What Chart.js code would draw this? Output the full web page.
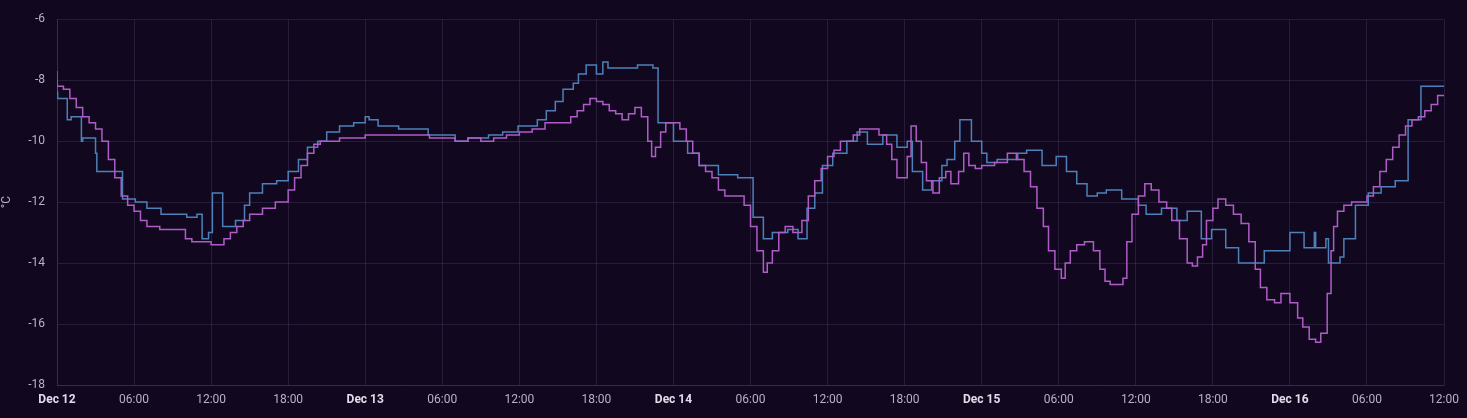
<!DOCTYPE html>
<html>
<head>
<meta charset="utf-8">
<script src="https://cdn.jsdelivr.net/npm/chart.js@4/dist/chart.umd.min.js"></script>
<style>
  html, body { margin: 0; padding: 0; background: #110820; }
  #wrap { width: 1467px; height: 418px; }
</style>
</head>
<body>
<div id="wrap"><canvas id="c"></canvas></div>
<script>
// x = hours since Dec 12 00:00
const tickLabels = ['Dec 12', '06:00', '12:00', '18:00', 'Dec 13', '06:00', '12:00', '18:00', 'Dec 14', '06:00', '12:00', '18:00', 'Dec 15', '06:00', '12:00', '18:00', 'Dec 16', '06:00', '12:00'];

const blueHours = [0, 0.05, 0.8, 1.1, 1.9, 2.0, 3.0, 3.1, 5.1, 6.1, 7.0, 8.1, 10.1, 10.9, 11.3, 11.8, 12.1, 12.9, 13.9, 14.6, 15.0, 16.0, 17.1, 18.0, 18.8, 19.5, 20.3, 21.0, 22.0, 23.1, 24.0, 24.3, 25.0, 26.6, 28.9, 31.0, 32.0, 33.6, 34.7, 35.9, 37.4, 38.1, 38.8, 39.4, 40.2, 40.6, 41.2, 42.0, 42.5, 42.9, 45.2, 46.4, 46.8, 48.0, 49.1, 50.0, 51.5, 53.0, 54.2, 55.0, 55.7, 56.9, 57.7, 58.4, 59.0, 59.6, 60.4, 61.5, 62.3, 63.1, 64.3, 65.4, 66.2, 66.6, 67.4, 68.1, 68.9, 69.3, 69.9, 70.3, 71.2, 72.0, 72.4, 73.2, 74.8, 75.5, 76.7, 77.8, 78.6, 79.4, 80.2, 81.0, 81.7, 82.9, 84.2, 84.8, 86.0, 87.2, 88.0, 89.1, 89.9, 91.0, 92.0, 94.0, 96.0, 97.1, 97.9, 98.0, 98.8, 99.0, 99.9, 100.2, 101.1, 102.1, 103.1, 104.2, 105.2, 106.2, 107.1, 108];
const blueValues = [-7.7, -8.4, -8.6, -9.3, -9.2, -10.0, -9.9, -10.4, -11.0, -11.9, -12.0, -12.2, -12.4, -12.5, -12.4, -13.2, -13.0, -11.7, -12.8, -12.6, -12.1, -11.7, -11.4, -11.3, -11.0, -10.6, -10.2, -10.0, -9.7, -9.5, -9.4, -9.2, -9.3, -9.5, -9.6, -9.8, -10.0, -9.9, -9.8, -9.7, -9.5, -9.3, -9.0, -8.7, -8.3, -8.1, -7.8, -7.5, -7.8, -7.4, -7.6, -7.5, -7.6, -9.4, -10.0, -10.4, -10.8, -11.1, -11.2, -12.5, -13.2, -13.0, -12.9, -13.2, -12.2, -11.7, -10.8, -10.4, -10.0, -9.7, -10.1, -9.8, -10.2, -10.0, -11.0, -11.6, -11.3, -10.8, -10.6, -10.0, -9.3, -10.0, -10.4, -10.7, -10.6, -10.4, -10.3, -10.8, -10.5, -11.0, -11.4, -11.8, -11.7, -11.6, -11.9, -12.1, -12.4, -12.2, -12.6, -12.3, -13.2, -12.9, -13.5, -14.0, -13.6, -13.0, -13.5, -13.0, -13.5, -13.2, -14.0, -13.8, -13.2, -12.1, -11.7, -11.5, -11.3, -9.3, -8.2, -8.2];

const purpleHours = [0, 0.5, 1, 1.5, 2, 2.5, 3, 3.5, 4, 4.5, 5, 5.5, 6, 6.5, 7, 7.5, 8, 8.5, 9, 10, 10.5, 11, 12, 12.5, 13, 13.5, 14, 14.5, 15, 15.5, 16, 17, 18, 18.5, 19, 19.5, 20, 20.5, 21, 22, 23, 24, 25, 27, 29, 31, 32, 33, 34, 35, 36, 37, 38, 39, 40, 40.5, 41, 41.5, 42, 42.5, 43, 43.5, 44, 44.5, 45, 45.5, 46, 46.3, 46.6, 47, 47.4, 47.8, 48.5, 49, 49.5, 50, 50.5, 51, 51.5, 52, 52.5, 53.5, 54, 54.5, 55, 55.3, 55.7, 56.2, 56.7, 57.3, 58, 58.5, 59, 59.5, 60, 60.5, 61, 62, 62.5, 63, 64, 64.6, 65, 65.4, 65.8, 66.2, 66.5, 66.9, 67.3, 67.7, 68.2, 68.7, 69.2, 69.6, 70.2, 70.6, 71, 71.5, 72, 73, 74, 74.7, 75.3, 75.8, 76.3, 76.8, 77.2, 77.7, 78.2, 78.5, 78.9, 79.4, 80, 80.7, 81.2, 81.6, 82, 83, 83.3, 83.7, 84.2, 84.7, 85.2, 85.8, 86.4, 86.8, 87.4, 88, 88.4, 88.8, 89.2, 89.5, 90, 90.4, 91, 91.6, 92.2, 92.8, 93.3, 93.7, 94.2, 94.8, 95.3, 96, 96.6, 97, 97.5, 98, 98.4, 98.9, 99.2, 99.4, 99.7, 100.2, 100.8, 101.5, 102, 102.5, 103, 103.5, 104, 104.5, 105, 105.5, 106, 106.5, 107, 107.5, 108];
const purpleValues = [-8.0, -8.2, -8.3, -8.6, -8.9, -9.2, -9.4, -9.6, -10.0, -10.6, -11.2, -11.8, -12.1, -12.3, -12.6, -12.8, -12.8, -12.9, -12.9, -12.9, -13.2, -13.3, -13.3, -13.4, -13.4, -13.2, -13.0, -12.8, -12.6, -12.4, -12.4, -12.2, -12.0, -11.6, -11.2, -10.8, -10.4, -10.1, -10.0, -10.0, -9.9, -9.9, -9.8, -9.8, -9.8, -9.9, -10.0, -9.9, -10.0, -9.9, -9.8, -9.7, -9.6, -9.4, -9.4, -9.2, -9.0, -8.8, -8.6, -8.7, -8.8, -9.0, -9.1, -9.3, -9.1, -8.9, -9.2, -10.0, -10.5, -10.2, -9.7, -9.4, -9.4, -9.6, -10.0, -10.4, -10.8, -11.0, -11.2, -11.6, -11.8, -11.8, -12.1, -12.8, -13.6, -14.3, -14.0, -13.6, -13.0, -12.8, -13.0, -12.6, -11.8, -11.3, -10.9, -10.5, -10.3, -10.0, -9.8, -9.6, -9.6, -9.8, -10.1, -10.6, -11.2, -11.2, -10.5, -9.5, -10.0, -10.7, -11.3, -11.7, -11.2, -11.0, -11.4, -11.0, -10.4, -10.8, -10.9, -10.8, -10.7, -10.4, -10.6, -11.0, -11.5, -12.2, -12.8, -13.6, -14.2, -14.5, -14.0, -13.6, -13.4, -13.3, -13.6, -14.2, -14.6, -14.7, -14.5, -13.3, -12.4, -11.8, -11.4, -11.6, -12.0, -12.2, -12.6, -13.2, -14.0, -14.1, -13.8, -13.4, -12.6, -12.2, -11.9, -12.1, -12.4, -12.7, -13.3, -14.2, -14.8, -15.2, -15.3, -15.0, -15.3, -15.8, -16.1, -16.5, -16.6, -16.3, -15.0, -13.6, -12.8, -12.3, -12.1, -12.0, -12.0, -11.8, -11.5, -11.0, -10.6, -10.2, -9.8, -9.5, -9.3, -9.2, -9.0, -8.8, -8.5];

const toPoints = (xs, ys) => xs.map((x, i) => ({ x: x, y: ys[i] }));

const gridColor = 'rgba(120, 100, 150, 0.22)';
const isDay = ctx => (ctx.index || 0) % 4 === 0;

new Chart(document.getElementById('c'), {
    type: 'line',
    data: {
        datasets: [
            {
                data: toPoints(purpleHours, purpleValues),
                borderColor: '#b05cc6',
                borderWidth: 1.5,
                stepped: 'after',
                pointRadius: 0
            },
            {
                data: toPoints(blueHours, blueValues),
                borderColor: '#4d80b8',
                borderWidth: 1.5,
                stepped: 'after',
                pointRadius: 0
            }
        ]
    },
    options: {
        responsive: true,
        maintainAspectRatio: false,
        animation: false,
        layout: { padding: { top: 12, right: 19, left: 0, bottom: 0 } },
        plugins: { legend: { display: false }, tooltip: { enabled: false } },
        scales: {
            x: {
                type: 'linear',
                min: 0,
                max: 108,
                afterFit: s => { s.height = 33; },
                afterBuildTicks: s => { s.ticks = tickLabels.map((_, i) => ({ value: i * 6 })); },
                grid: { color: gridColor, drawTicks: false },
                border: { color: gridColor },
                ticks: {
                    padding: 8,
                    maxRotation: 0,
                    autoSkip: false,
                    callback: v => tickLabels[Math.round(v / 6)],
                    color: ctx => (isDay(ctx) ? '#e0dce8' : '#b8b2c4'),
                    font: ctx => ({ family: 'Roboto', size: 12, weight: isDay(ctx) ? 'bold' : 'normal' })
                }
            },
            y: {
                min: -18,
                max: -6,
                afterFit: s => { s.width = 57; },
                grid: { color: gridColor, drawTicks: false },
                border: { color: gridColor },
                ticks: {
                    stepSize: 2,
                    padding: 12,
                    color: '#b8b2c4',
                    font: { family: 'Roboto', size: 12 }
                },
                title: {
                    display: true,
                    text: '°C',
                    color: '#b8b2c4',
                    padding: 0,
                    font: { family: 'Roboto', size: 12 }
                }
            }
        }
    }
});
</script>
</body>
</html>
